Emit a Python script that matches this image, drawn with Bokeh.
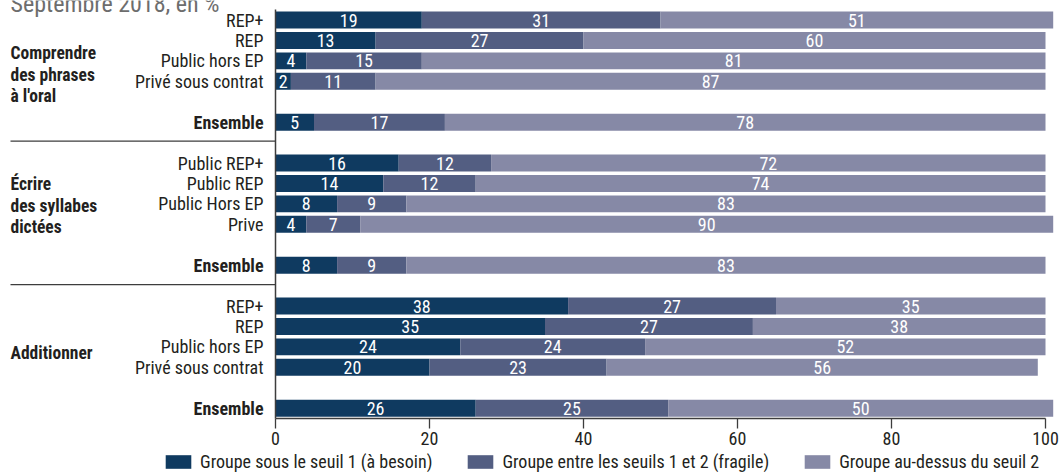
from bokeh.plotting import figure
from bokeh.models import ColumnDataSource, Range1d, FixedTicker, Legend, LegendItem
from bokeh.core.properties import value
from bokeh.embed import file_html
from bokeh.resources import INLINE

# ---- data -------------------------------------------------------------
subtitle = "Septembre 2018, en %"

series_names = [
    "Groupe sous le seuil 1 (à besoin)",
    "Groupe entre les seuils 1 et 2 (fragile)",
    "Groupe au-dessus du seuil 2",
]

group_titles = [
    ["Comprendre", "des phrases", "à l'oral"],
    ["Écrire", "des syllabes", "dictées"],
    ["Additionner"],
]

comprendre_labels = ["REP+", "REP", "Public hors EP", "Privé sous contrat", "Ensemble"]
comprendre_seuil1 = [19, 13, 4, 2, 5]
comprendre_fragile = [31, 27, 15, 11, 17]
comprendre_seuil2 = [51, 60, 81, 87, 78]

ecrire_labels = ["Public REP+", "Public REP", "Public Hors EP", "Prive", "Ensemble"]
ecrire_seuil1 = [16, 14, 8, 4, 8]
ecrire_fragile = [12, 12, 9, 7, 9]
ecrire_seuil2 = [72, 74, 83, 90, 83]

additionner_labels = ["REP+", "REP", "Public hors EP", "Privé sous contrat", "Ensemble"]
additionner_seuil1 = [38, 35, 24, 20, 26]
additionner_fragile = [27, 27, 24, 23, 25]
additionner_seuil2 = [35, 38, 52, 56, 50]

x_ticks = [0, 20, 40, 60, 80, 100]

# ---- styling ----------------------------------------------------------
FONT = "Roboto Condensed"
COLORS = ["#0f3a60", "#535e82", "#8689a6"]
TEXT = "#231f20"
AXIS = "#3d3d3d"

W, H = 1060, 472
X0_PX, PX_PER_UNIT = 275, 7.7          # where 0 % sits, and pixels per %
ROW0_PX, ROW_PX = 19.5, 20.43          # first bar centre and row pitch
AXIS_PX = 418                          # vertical position of the % axis

def row_at(px):
    return (px - ROW0_PX) / ROW_PX

def pct_at(px):
    return (px - X0_PX) / PX_PER_UNIT

groups = [
    (comprendre_labels, comprendre_seuil1, comprendre_fragile, comprendre_seuil2),
    (ecrire_labels, ecrire_seuil1, ecrire_fragile, ecrire_seuil2),
    (additionner_labels, additionner_seuil1, additionner_fragile, additionner_seuil2),
]

# flatten the three blocks into rows: 4 sub-populations, a blank row, "Ensemble"
ys, labels, is_total = [], [], []
vals = [[], [], []]
for g, (labs, a, b, c) in enumerate(groups):
    base = 7 * g
    for i, lab in enumerate(labs):
        ys.append(base + (i if i < 4 else 5))
        labels.append(lab)
        is_total.append(i == 4)
        vals[0].append(a[i])
        vals[1].append(b[i])
        vals[2].append(c[i])

# the frame fills the whole canvas; the % axis is pinned inside it
p = figure(
    width=W, height=H,
    x_range=Range1d(pct_at(0), pct_at(W)),
    y_range=Range1d(row_at(H), row_at(0)),
    output_backend="svg", toolbar_location=None,
    min_border_left=0, min_border_right=0, min_border_top=0,
    min_border_bottom=0,
)
p.outline_line_color = None
p.background_fill_color = "white"
p.border_fill_color = "white"
p.xgrid.visible = False
p.ygrid.visible = False
p.yaxis.visible = False

# ---- stacked bars -------------------------------------------------------
renderers = []
left = [0] * len(ys)
for k in range(3):
    right = [l + v for l, v in zip(left, vals[k])]
    src = ColumnDataSource(dict(
        y=ys, left=left, right=right,
        mid=[(l + r) / 2 for l, r in zip(left, right)],
        txt=[str(v) for v in vals[k]],
    ))
    r = p.hbar(y="y", left="left", right="right", height=0.83, source=src,
               fill_color=COLORS[k], line_color=None)
    renderers.append(r)
    p.text(x="mid", y="y", text="txt", source=src,
           text_font=value(FONT), text_font_size="18px", text_color="white",
           text_align="center", text_baseline="middle")
    left = right

# ---- category labels -----------------------------------------------------
lab_x = pct_at(263)
reg = ColumnDataSource(dict(
    x=[lab_x] * sum(not t for t in is_total),
    y=[y for y, t in zip(ys, is_total) if not t],
    t=[l for l, t in zip(labels, is_total) if not t],
))
tot = ColumnDataSource(dict(
    x=[lab_x] * sum(is_total),
    y=[y for y, t in zip(ys, is_total) if t],
    t=[l for l, t in zip(labels, is_total) if t],
))
p.text(x="x", y="y", text="t", source=reg, text_font=value(FONT),
       text_font_size="18px", text_color=TEXT, text_align="right",
       text_baseline="middle")
p.text(x="x", y="y", text="t", source=tot, text_font=value(FONT),
       text_font_size="18px", text_font_style="bold", text_color=TEXT,
       text_align="right", text_baseline="middle")

# ---- block titles and separators --------------------------------------------
title_x = pct_at(10)
title_centre_px = [74, 205, 352]
line_pitch = 21.5 / ROW_PX
for lines, yc in zip(group_titles, title_centre_px):
    n = len(lines)
    ty = [row_at(yc) + (i - (n - 1) / 2) * line_pitch for i in range(n)]
    p.text(x=[title_x] * n, y=ty, text=lines, text_font=value(FONT),
           text_font_size="17.5px", text_font_style="bold", text_color=TEXT,
           text_align="left", text_baseline="middle")

sep_rows = [5.93, 12.95]
p.segment(x0=[title_x] * 2, x1=[0] * 2, y0=sep_rows, y1=sep_rows,
          line_color=AXIS, line_width=1.3)

# vertical baseline at 0 %
p.segment(x0=[0], x1=[0], y0=[-0.52], y1=[row_at(AXIS_PX)], line_color=AXIS,
          line_width=1.5)

# subtitle, partly above the top edge
p.text(x=[title_x], y=[row_at(3)], text=[subtitle],
       text_font=value(FONT), text_font_size="24px", text_color="#6d6d6d",
       text_align="left", text_baseline="alphabetic")

# ---- x axis -----------------------------------------------------------------
ax = p.xaxis[0]
ax.fixed_location = row_at(AXIS_PX)
ax.ticker = FixedTicker(ticks=x_ticks)
ax.bounds = (0, 100)
ax.axis_line_color = AXIS
ax.axis_line_width = 1.5
ax.major_tick_line_color = AXIS
ax.major_tick_line_width = 1.3
ax.major_tick_out = 10
ax.major_tick_in = 0
ax.minor_tick_out = 0
ax.minor_tick_in = 0
ax.major_label_standoff = 3
ax.major_label_text_font = FONT
ax.major_label_text_font_size = "18px"
ax.major_label_text_color = TEXT

# ---- legend under the axis ---------------------------------------------------
legend = Legend(
    items=[LegendItem(label=series_names[k], renderers=[renderers[k]])
           for k in range(3)],
    location=(162, 0),
    orientation="horizontal",
    glyph_width=32, glyph_height=17, label_standoff=6, spacing=32,
    label_text_font=FONT, label_text_font_size="18px",
    label_text_color=TEXT, label_height=17,
    padding=0, margin=0,
    border_line_color=None, background_fill_alpha=0,
)
p.add_layout(legend, "center")

open("out.html", "w").write(file_html(p, INLINE))
